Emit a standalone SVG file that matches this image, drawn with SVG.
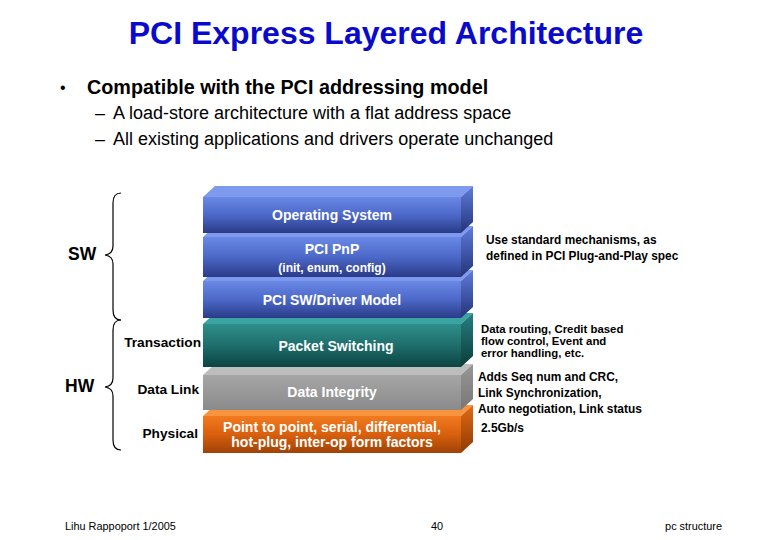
<svg xmlns="http://www.w3.org/2000/svg" width="780" height="540" viewBox="0 0 780 540">
<style>
text{font-family:"Liberation Sans",Arial,sans-serif}
.title{font-size:32px;font-weight:bold;fill:#0A0ACC}
.b1{font-size:19.8px;font-weight:bold;fill:#000}
.b2{font-size:18px;fill:#000}
.lyr{font-size:14px;font-weight:bold;fill:#fff}
.lyrs{font-size:12px;font-weight:bold;fill:#fff}
.lbl{font-size:13.7px;font-weight:bold;fill:#000}
.big{font-size:17.5px;font-weight:bold;fill:#000}
.note{font-size:11.9px;font-weight:bold;fill:#000}
.note2{font-size:11.4px;font-weight:bold;fill:#000}
.foot{font-size:10.9px;fill:#000}
.brace{fill:none;stroke:#000;stroke-width:1.2}
</style>
<defs>
<linearGradient id="gBlue" x1="0" y1="0" x2="0" y2="1"><stop offset="0" stop-color="#6A88E6"/><stop offset="0.5" stop-color="#4C68C8"/><stop offset="1" stop-color="#2A3B88"/></linearGradient>
<linearGradient id="gBlueS" x1="0" y1="0" x2="0" y2="1"><stop offset="0" stop-color="#5E7CDC"/><stop offset="1" stop-color="#243378"/></linearGradient>
<linearGradient id="gTeal" x1="0" y1="0" x2="0" y2="1"><stop offset="0" stop-color="#2E8E8A"/><stop offset="0.5" stop-color="#1E6E6C"/><stop offset="1" stop-color="#0B4442"/></linearGradient>
<linearGradient id="gTealS" x1="0" y1="0" x2="0" y2="1"><stop offset="0" stop-color="#258080"/><stop offset="1" stop-color="#0A3C3A"/></linearGradient>
<linearGradient id="gGray" x1="0" y1="0" x2="0" y2="1"><stop offset="0" stop-color="#A6A6A6"/><stop offset="1" stop-color="#8A8A8A"/></linearGradient>
<linearGradient id="gGrayS" x1="0" y1="0" x2="0" y2="1"><stop offset="0" stop-color="#969696"/><stop offset="1" stop-color="#777"/></linearGradient>
<linearGradient id="gOr" x1="0" y1="0" x2="0" y2="1"><stop offset="0" stop-color="#F27A1E"/><stop offset="0.5" stop-color="#D8600E"/><stop offset="1" stop-color="#A04206"/></linearGradient>
<linearGradient id="gOrS" x1="0" y1="0" x2="0" y2="1"><stop offset="0" stop-color="#E06A14"/><stop offset="1" stop-color="#8E3A04"/></linearGradient>
</defs>
<rect width="780" height="540" fill="#fff"/>

<text class="title" x="386" y="44" text-anchor="middle">PCI Express Layered Architecture</text>
<text x="60" y="93" style="font-size:16px">•</text>
<text class="b1" x="87" y="94">Compatible with the PCI addressing model</text>
<text class="b2" x="95" y="119">–</text>
<text class="b2" x="113" y="119">A load-store architecture with a flat address space</text>
<text class="b2" x="95" y="145">–</text>
<text class="b2" x="113" y="145">All existing applications and drivers operate unchanged</text>

<g id="phys">
<polygon points="203,416 215,405 473,405 461,416" fill="#F89440"/>
<polygon points="461,416 473,405 473,442 461,453" fill="url(#gOrS)"/>
<rect x="203" y="416" width="258" height="37" fill="url(#gOr)"/>
<text class="lyr" x="332" y="432" text-anchor="middle">Point to point, serial, differential,</text>
<text class="lyr" x="332" y="447" text-anchor="middle">hot-plug, inter-op form factors</text>
</g>
<g id="link">
<polygon points="203,375 215,364 473,364 461,375" fill="#BDBDBD"/>
<polygon points="461,375 473,364 473,399 461,410" fill="url(#gGrayS)"/>
<rect x="203" y="375" width="258" height="35" fill="url(#gGray)"/>
<text class="lyr" x="332" y="397" text-anchor="middle">Data Integrity</text>
</g>
<g id="trans">
<polygon points="203,324 215,313 473,313 461,324" fill="#3AA4A2"/>
<polygon points="461,324 473,313 473,356 461,367" fill="url(#gTealS)"/>
<rect x="203" y="324" width="258" height="43" fill="url(#gTeal)"/>
<text class="lyr" x="336" y="351" text-anchor="middle">Packet Switching</text>
</g>
<g id="drv">
<polygon points="203,281 215,270 473,270 461,281" fill="#7E9AEC"/>
<polygon points="461,281 473,270 473,307 461,318" fill="url(#gBlueS)"/>
<rect x="203" y="281" width="258" height="37" fill="url(#gBlue)"/>
<text class="lyr" x="332" y="305" text-anchor="middle">PCI SW/Driver Model</text>
</g>
<g id="pnp">
<polygon points="203,237 215,226 473,226 461,237" fill="#7E9AEC"/>
<polygon points="461,237 473,226 473,266 461,277" fill="url(#gBlueS)"/>
<rect x="203" y="237" width="258" height="40" fill="url(#gBlue)"/>
<text class="lyr" x="332" y="254" text-anchor="middle">PCI PnP</text>
<text class="lyrs" x="332" y="272" text-anchor="middle">(init, enum, config)</text>
</g>
<g id="os">
<polygon points="203,197 215,186 473,186 461,197" fill="#7E9AEC"/>
<polygon points="461,197 473,186 473,222 461,233" fill="url(#gBlueS)"/>
<rect x="203" y="197" width="258" height="36" fill="url(#gBlue)"/>
<text class="lyr" x="332" y="220" text-anchor="middle">Operating System</text>
</g>

<g id="connectors">
<path class="brace" d="M121,193 Q113,193 113,203 L113,246 Q113,254 105,255 Q113,256 113,264 L113,310 Q113,320 121,320"/>
<path class="brace" d="M121,320 Q113,320 113,330 L113,378 Q113,386 105,387 Q113,388 113,396 L113,440 Q113,450 121,450"/>
</g>

<g id="labels">
<text class="big" x="68" y="260">SW</text>
<text class="big" x="65" y="392">HW</text>
<text class="lbl" x="201" y="347" text-anchor="end">Transaction</text>
<text class="lbl" x="199" y="394" text-anchor="end">Data Link</text>
<text class="lbl" x="198" y="438" text-anchor="end">Physical</text>
</g>

<g id="notes">
<text class="note" x="486" y="244">Use standard mechanisms, as</text>
<text class="note" x="486" y="260">defined in PCI Plug-and-Play spec</text>
<text class="note2" x="481" y="333">Data routing, Credit based</text>
<text class="note2" x="481" y="345">flow control, Event and</text>
<text class="note2" x="481" y="357">error handling, etc.</text>
<text class="note" x="478" y="381">Adds Seq num and CRC,</text>
<text class="note" x="478" y="397">Link Synchronization,</text>
<text class="note" x="478" y="413">Auto negotiation, Link status</text>
<text class="note" x="481" y="432">2.5Gb/s</text>
</g>

<text class="foot" x="65" y="530">Lihu Rappoport 1/2005</text>
<text class="foot" x="437" y="530" text-anchor="middle">40</text>
<text class="foot" x="722" y="530" text-anchor="end">pc structure</text>
</svg>
